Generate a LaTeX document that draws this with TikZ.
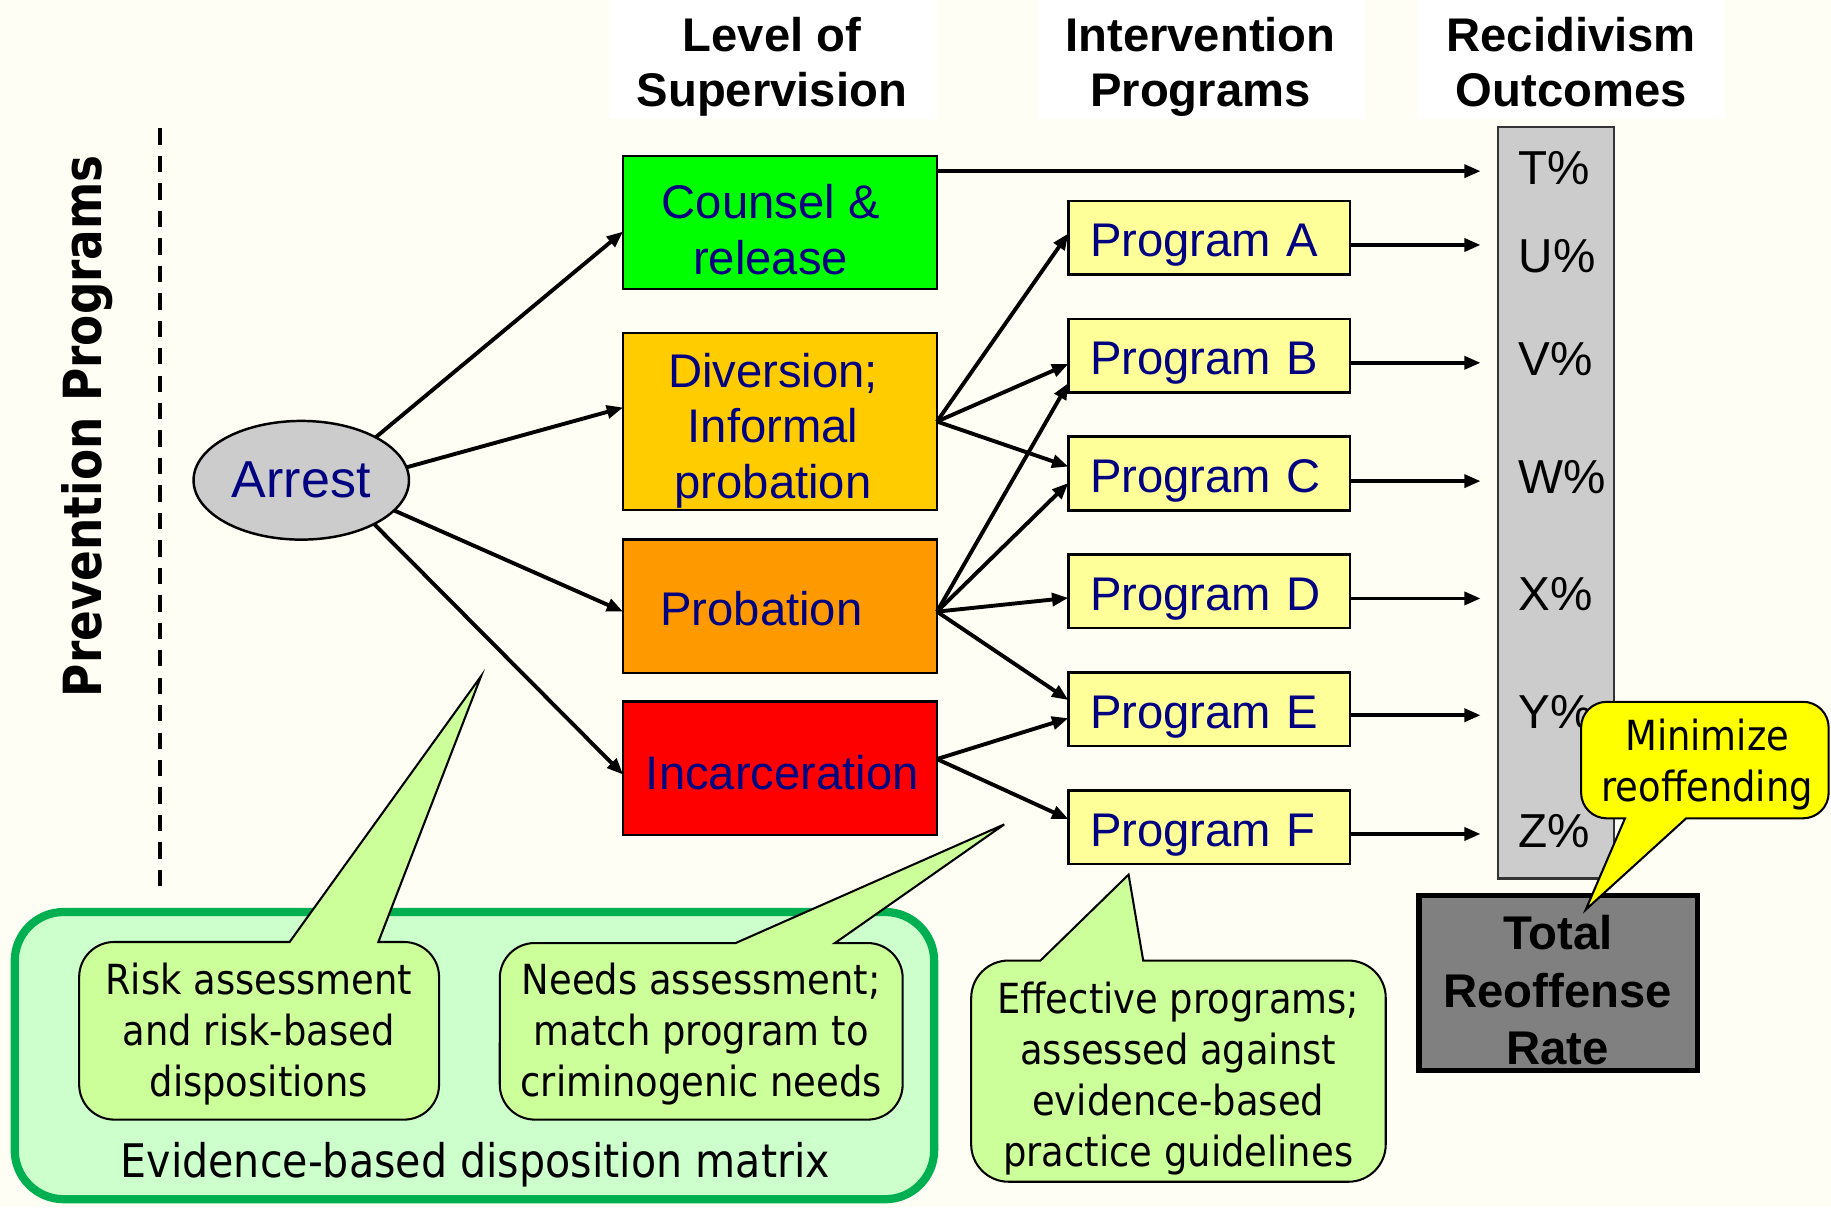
\documentclass[tikz,border=0pt]{standalone}
\usepackage{fontspec}
\setmainfont{Liberation Sans}
\newfontfamily\tahoma[FakeStretch=0.89]{DejaVu Sans}
\newfontfamily\prevfont[FakeStretch=0.863]{DejaVu Sans Bold}
\usetikzlibrary{arrows.meta,shapes.geometric,calc}
\definecolor{bgc}{HTML}{FEFEF4}
\definecolor{navy}{HTML}{000080}
\definecolor{cgreen}{HTML}{00FF00}
\definecolor{divfill}{HTML}{FFCC00}
\definecolor{probfill}{HTML}{FF9900}
\definecolor{incfill}{HTML}{FF0000}
\definecolor{progfill}{HTML}{FFFF99}
\definecolor{grayc}{HTML}{CCCCCC}
\definecolor{grayborder}{HTML}{333333}
\definecolor{totalc}{HTML}{808080}
\definecolor{callfill}{HTML}{CCFF99}
\definecolor{ebfill}{HTML}{CCFFCC}
\definecolor{ebgreen}{HTML}{00B050}
\definecolor{yellowc}{HTML}{FFFF00}
\begin{document}
\begin{tikzpicture}[x=0.01cm,y=-0.01cm,
  arr/.style={-{Triangle[length=0.14cm,width=0.11cm]}, line width=0.95pt, draw=black},
  lvbox/.style={rectangle, draw=black, line width=0.55pt, minimum width=2.686cm, inner sep=0pt, outer sep=0pt},
  lvtxt/.style={anchor=north, align=center, inner sep=0pt, text=navy, font=\fontsize{11.5pt}{13.51pt}\selectfont},
  progbox/.style={rectangle, draw=black, line width=0.6pt, fill=progfill, minimum width=2.41cm, minimum height=0.63cm, inner xsep=0.185cm, inner ysep=0pt, outer sep=0pt, text width=2.04cm, align=left, text height=0.32cm, text depth=0pt, text=navy, font=\fontsize{11.5pt}{13.5pt}\selectfont},
  hdr/.style={anchor=north, align=center, inner sep=0pt, font=\bfseries\fontsize{11.5pt}{13.51pt}\selectfont},
  outl/.style={anchor=base west, inner sep=0pt, font=\fontsize{11.6pt}{14pt}\selectfont},
  calltxt/.style={anchor=north, align=center, inner sep=0pt, font=\tahoma\fontsize{10.1pt}{12.38pt}\selectfont},
  callout/.style={draw=black, line width=0.5pt, fill=callfill}
]
\useasboundingbox (0,0) rectangle (1568,1034);
\fill[bgc] (0,0) rectangle (1568,1034);

% headers
\fill[white] (521.6,0) rectangle (802,101.6);
\fill[white] (888.8,0) rectangle (1169,101.6);
\fill[white] (1214,0) rectangle (1477.5,101.6);
\node[hdr] (h1) at (661,10.05) {\strut Level of\\Supervision};
\node[hdr] (h2) at (1028,10.05) {\strut Intervention\\Programs};
\node[hdr] (h3) at (1345.5,10.05) {\strut Recidivism\\Outcomes};

% prevention
\coordinate (dtop) at (137.2,110);
\coordinate (dbot) at (137.2,764.5);
\draw[line width=0.95pt, dash pattern=on 0.14cm off 0.095cm] (dtop) -- (dbot);
\node[rotate=90, anchor=base, inner sep=0pt, font=\prevfont\fontsize{12.8pt}{15pt}\selectfont] (prevT) at (87.1,365) {Prevention Programs};

% big evidence box
\draw[line width=2pt, draw=ebgreen, fill=ebfill, rounded corners=0.42cm] (12.6,781) rectangle (800,1027);
\node[anchor=base, inner sep=0pt, font=\tahoma\fontsize{11.27pt}{13pt}\selectfont] (evT) at (407,1008.6) {Evidence-based disposition matrix};

% arrest
\node[ellipse, draw=black, line width=0.6pt, fill=grayc, minimum width=1.844cm, minimum height=1.016cm, inner sep=0pt, outer sep=0pt, text=navy, font=\fontsize{12.66pt}{15pt}\selectfont] (arrest) at (258,411.3) {Arrest};

% level boxes
\node[lvbox, fill=cgreen, minimum height=1.137cm] (counsel) at (668,190.5) {};
\node[lvbox, fill=divfill, minimum height=1.52cm] (diversion) at (668,361) {};
\node[lvbox, fill=probfill, minimum height=1.14cm] (probation) at (668,519) {};
\node[lvbox, fill=incfill, minimum height=1.14cm] (incarc) at (668,657.75) {};
\node[lvtxt] (counselT) at (660,153.5) {\strut Counsel \&\\release};
\node[lvtxt] (diversionT) at (662,297.75) {\strut Diversion;\\Informal\\probation};
\node[lvtxt] (probationT) at (652,501.75) {\strut Probation};
\node[lvtxt] (incarcT) at (670,641.75) {\strut Incarceration};

% program boxes
\node[progbox] (pA) at (1035.5,203.5) {Program A};
\node[progbox] (pB) at (1035.5,304.5) {Program B};
\node[progbox] (pC) at (1035.5,405.5) {Program C};
\node[progbox] (pD) at (1035.5,506.5) {Program D};
\node[progbox] (pE) at (1035.5,607.5) {Program E};
\node[progbox] (pF) at (1035.5,708.5) {Program F};

% arrows from arrest
\draw[arr] (arrest.30.5) -- ([yshift=-0.078cm]counsel.west);
\draw[arr] (arrest.7.5) -- ([yshift=0.12cm]diversion.west);
\draw[arr] (arrest.-18.2) -- ([yshift=-0.048cm]probation.west);
\draw[arr] (arrest.-31.7) -- ([yshift=-0.056cm]incarc.west);

% arrows level -> programs
\draw[arr] (diversion.east) -- ([yshift=0.036cm]pA.west);
\draw[arr] (diversion.east) -- ([yshift=-0.072cm]pB.west);
\draw[arr] (diversion.east) -- ([yshift=0.059cm]pC.west);
\draw[arr] ([yshift=-0.048cm]probation.east) -- ([yshift=-0.235cm]pB.west);
\draw[arr] ([yshift=-0.048cm]probation.east) -- ([yshift=-0.081cm]pC.west);
\draw[arr] ([yshift=-0.048cm]probation.east) -- ([yshift=-0.055cm]pD.west);
\draw[arr] ([yshift=-0.048cm]probation.east) -- ([yshift=0.08cm]pE.west);
\draw[arr] ([yshift=0.077cm]incarc.east) -- ([yshift=-0.075cm]pE.west);
\draw[arr] ([yshift=0.077cm]incarc.east) -- ([yshift=0.07cm]pF.west);

% outcome column
\node[rectangle, draw=grayborder, fill=grayc, line width=0.6pt, minimum width=0.99cm, minimum height=6.434cm, inner sep=0pt, outer sep=0pt] (outcol) at (1332.5,430.6) {};
\coordinate (endx) at (1268,0);
\draw[arr] ([yshift=0.439cm]counsel.east) coordinate (c0) -- (c0 -| endx);
\draw[arr] ([yshift=-0.063cm]pA.east) coordinate (c1) -- (c1 -| endx);
\draw[arr] ([yshift=-0.062cm]pB.east) coordinate (c2) -- (c2 -| endx);
\draw[arr] ([yshift=-0.065cm]pC.east) coordinate (c3) -- (c3 -| endx);
\draw[arr] ([yshift=-0.06cm]pD.east) coordinate (c4) -- (c4 -| endx);
\draw[arr] ([yshift=-0.05cm]pE.east) coordinate (c5) -- (c5 -| endx);
\draw[arr] ([yshift=-0.057cm]pF.east) coordinate (c6) -- (c6 -| endx);
\node[outl] (oT) at (1300,158) {T\%};
\node[outl] (oU) at (1300,233) {U\%};
\node[outl] (oV) at (1300,322) {V\%};
\node[outl] (oW) at (1300,423) {W\%};
\node[outl] (oX) at (1300,523) {X\%};
\node[outl] (oY) at (1300,624) {Y\%};
\node[outl] (oZ) at (1300,725.6) {Z\%};

% total box
\node[rectangle, draw=black, line width=1.35pt, fill=totalc, minimum width=2.385cm, minimum height=1.50cm, inner sep=0pt, outer sep=0pt] (total) at (1334.5,841.75) {};
\node[anchor=north, align=center, inner sep=0pt, font=\bfseries\fontsize{11.52pt}{13.94pt}\selectfont] (totalT) at (1334,778.4) {\strut Total\\Reoffense\\Rate};

% callout 1
\filldraw[callout] (324,806.7) -- (346,806.7) arc[start angle=90,end angle=0,radius=0.30cm] -- (376,928.8) arc[start angle=0,end angle=-90,radius=0.30cm] -- (97.8,958.8) arc[start angle=270,end angle=180,radius=0.30cm] -- (67.8,836.7) arc[start angle=180,end angle=90,radius=0.30cm] -- (248,806.7) -- (412,579) -- cycle;
\node[calltxt] (c1T) at (221.6,820.55) {\strut Risk assessment\\and risk-based\\dispositions};

% callout 2
\filldraw[callout] (715,807.6) -- (743,807.6) arc[start angle=90,end angle=0,radius=0.30cm] -- (773,928.8) arc[start angle=0,end angle=-90,radius=0.30cm] -- (458,958.8) arc[start angle=270,end angle=180,radius=0.30cm] -- (428,837.6) arc[start angle=180,end angle=90,radius=0.30cm] -- (630,807.6) -- (860,706) -- cycle;
\node[calltxt] (c2T) at (600.5,820.55) {\strut Needs assessment;\\match program to\\criminogenic needs};

% callout 3
\filldraw[callout] (979,822.6) -- (1154.7,822.6) arc[start angle=90,end angle=0,radius=0.32cm] -- (1186.7,980) arc[start angle=0,end angle=-90,radius=0.32cm] -- (863.7,1012) arc[start angle=270,end angle=180,radius=0.32cm] -- (831.7,854.6) arc[start angle=180,end angle=90,radius=0.32cm] -- (891,822.6) -- (966.5,749) -- cycle;
\node[calltxt] (c3T) at (1009,837.05) {\strut Effective programs;\\assessed against\\evidence-based\\practice guidelines};

% callout 4 (yellow)
\filldraw[draw=black, line width=0.5pt, fill=yellowc] (1444,700.8) -- (1544,700.8) arc[start angle=-90,end angle=0,radius=0.22cm] -- (1566,623) arc[start angle=0,end angle=90,radius=0.22cm] -- (1376,601) arc[start angle=90,end angle=180,radius=0.22cm] -- (1354,678.8) arc[start angle=180,end angle=270,radius=0.22cm] -- (1391.6,700.8) -- (1358,779) -- cycle;
\node[calltxt] (c4T) at (1462,611.55) {\strut Minimize\\reoffending};
\end{tikzpicture}
\end{document}
